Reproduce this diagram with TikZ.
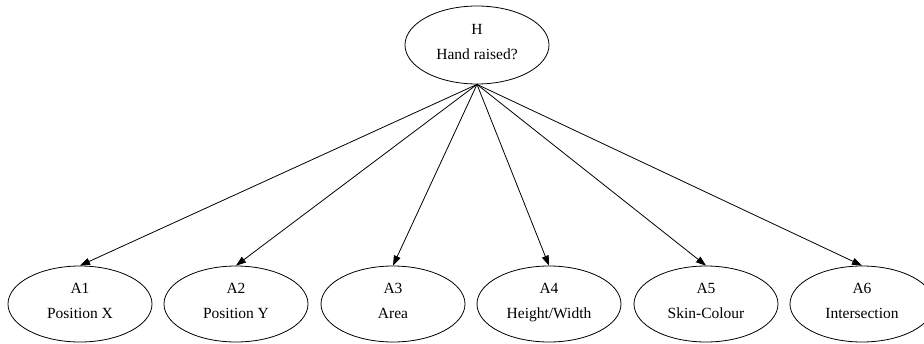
\documentclass[tikz,border=0pt]{standalone}
\usepackage{fontspec}
\setmainfont{Liberation Serif}
\usetikzlibrary{shapes.geometric,arrows.meta}

\begin{document}
\begin{tikzpicture}[x=1pt, y=-1pt, line width=0.8pt,
  attr/.style={ellipse, draw, minimum width=144pt, minimum height=76pt,
               inner sep=0pt, align=center, text depth=6pt,
               font=\fontsize{15.5}{25}\selectfont},
  link/.style={-{Triangle[length=10pt, width=7pt]}}]
  \useasboundingbox (0,0) rectangle (924,343);

  %% Class node
  \node[attr, minimum height=78pt] (H) at (477,45) {H\\Hand raised?};

  %% Attribute nodes
  \node[attr] (A1) at (80,304)  {A1\\Position X};
  \node[attr] (A2) at (236,304) {A2\\Position Y};
  \node[attr] (A3) at (393,304) {A3\\Area};
  \node[attr] (A4) at (549,304) {A4\\Height/Width};
  \node[attr] (A5) at (706,304) {A5\\Skin-Colour};
  \node[attr] (A6) at (862,304) {A6\\Intersection};

  %% Edges from the class to every attribute
  \foreach \a in {A1,A2,A3,A4,A5,A6}
    \draw[link] (H.south) -- (\a.north);

\end{tikzpicture}
\end{document}
